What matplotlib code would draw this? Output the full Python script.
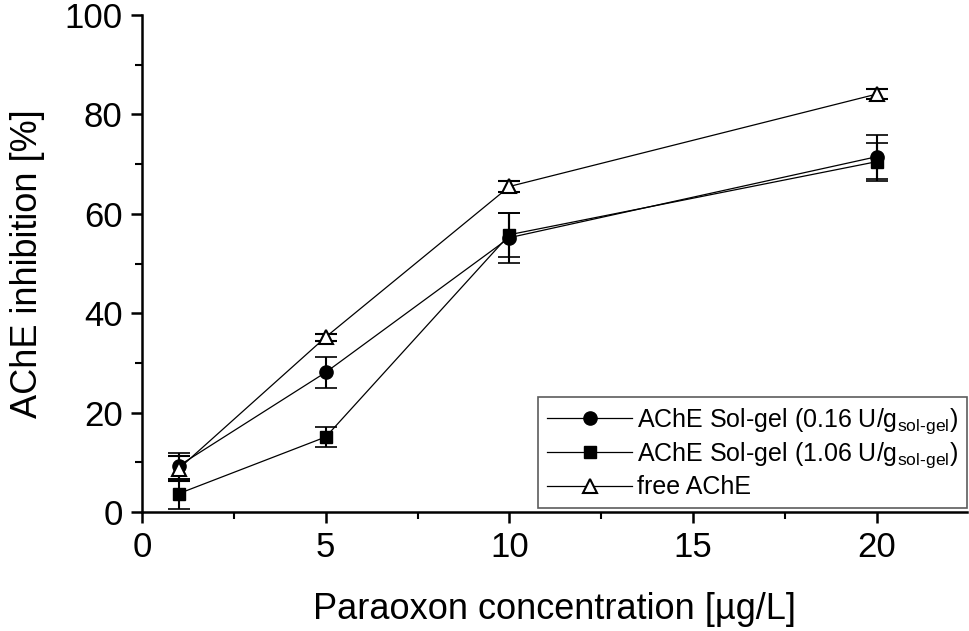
import matplotlib
matplotlib.use("Agg")
import matplotlib.pyplot as plt
from matplotlib.ticker import MultipleLocator

plt.rcParams['font.family'] = ['Liberation Sans', 'DejaVu Sans']
plt.rcParams['mathtext.fontset'] = 'custom'
plt.rcParams['mathtext.rm'] = 'Liberation Sans'
plt.rcParams['mathtext.it'] = 'Liberation Sans:italic'

conc = [1, 5, 10, 20]
sg016 = [9.3, 28.1, 55.2, 71.5]
sg016_err = [2.6, 3.1, 5.0, 4.4]
sg106 = [3.7, 15.1, 55.8, 70.5]
sg106_err = [3.0, 2.1, 4.4, 3.8]
free = [8.7, 35.2, 65.5, 84.1]
free_err = [2.5, 0.7, 1.2, 1.0]

labels = [r'AChE Sol-gel (0.16 U/g$_{\mathrm{sol\text{-}gel}}$)',
          r'AChE Sol-gel (1.06 U/g$_{\mathrm{sol\text{-}gel}}$)',
          'free AChE']

fig = plt.figure(figsize=(9.69, 6.31), dpi=100)
ax = fig.add_axes([142/969, (631-512)/631, (967-142)/969, (512-15)/631])

common = dict(color='black', lw=0.9, elinewidth=1.5, capsize=8, capthick=1.2)
ax.errorbar(conc, sg016, yerr=sg016_err, marker='o', ms=9.5, mfc='black', mec='black',
            label=labels[0], **common)
ax.errorbar(conc, sg106, yerr=sg106_err, marker='s', ms=8.5, mfc='black', mec='black',
            label=labels[1], **common)
ax.errorbar(conc, free, yerr=free_err, marker='^', ms=9.5, mfc='white', mec='black', mew=1.5,
            label=labels[2], **common)

ax.set_xlim(0, 22.45)
ax.set_ylim(0, 100)
ax.xaxis.set_major_locator(MultipleLocator(5))
ax.xaxis.set_minor_locator(MultipleLocator(2.5))
ax.yaxis.set_major_locator(MultipleLocator(20))
ax.yaxis.set_minor_locator(MultipleLocator(10))

for s in ['top', 'right']:
    ax.spines[s].set_visible(False)
for s in ['left', 'bottom']:
    ax.spines[s].set_linewidth(1.8)
ax.tick_params(which='major', direction='out', length=8, width=1.8, labelsize=25, pad=6)
ax.tick_params(which='minor', direction='out', length=5, width=1.5)

ax.set_xlabel('Paraoxon concentration [µg/L]', fontsize=26, labelpad=20)
ax.set_ylabel('AChE inhibition [%]', fontsize=26, labelpad=14)

handles, labs = ax.get_legend_handles_labels()
handles = [h[0] for h in handles]
leg = ax.legend(handles, labs, loc='lower right', bbox_to_anchor=(1.0, 0.008),
                fontsize=18, frameon=True, fancybox=False, edgecolor='#333333',
                handlelength=3.4, handletextpad=0.2, borderpad=0.35, labelspacing=0.2,
                borderaxespad=0.0)
leg.get_frame().set_linewidth(1.2)

fig.savefig('out.png', dpi=100)
